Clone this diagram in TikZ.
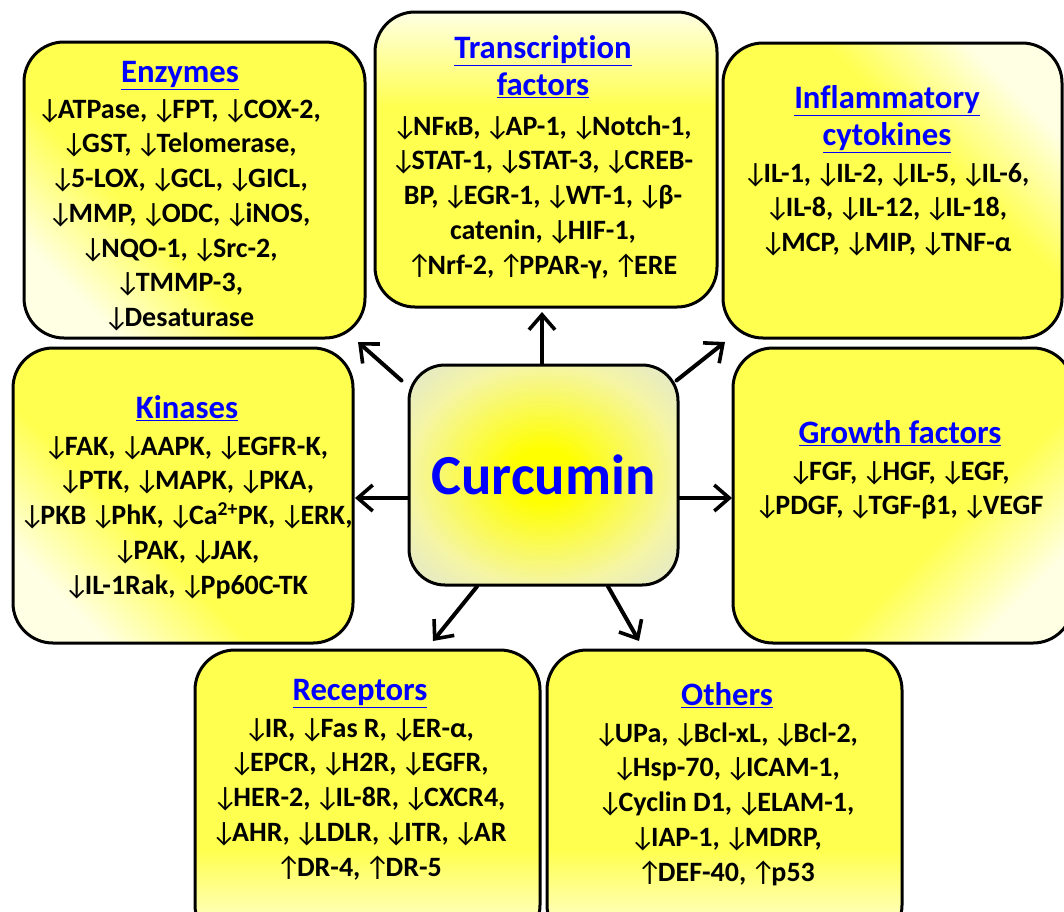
\documentclass[tikz,border=0pt]{standalone}
\usepackage{fontspec}
\setmainfont{Carlito}[Ligatures=NoCommon]
\usetikzlibrary{arrows.meta}
\definecolor{boxyel}{RGB}{255,255,80}
\definecolor{boxlight}{RGB}{255,255,228}
\definecolor{curyel}{RGB}{255,255,0}
\definecolor{curmid}{RGB}{245,245,165}
\definecolor{curedge}{RGB}{222,229,210}
\definecolor{ttlblue}{RGB}{0,0,255}
\pgfdeclareverticalshading{boxgrad}{100bp}{color(0bp)=(boxlight); color(25bp)=(boxlight); color(41bp)=(boxyel); color(100bp)=(boxyel)}
\pgfdeclareradialshading{curgrad}{\pgfpoint{0bp}{0bp}}{color(0bp)=(curyel); color(6bp)=(curyel); color(25bp)=(curmid); color(36bp)=(curedge); color(50bp)=(curedge)}
\newcommand\fstrut{\rule{0pt}{1em}}
\newcommand\dn{{\mdseries\kern-2pt↓\kern-4.5pt}}
\newcommand\upa{{\mdseries\kern-2pt↑\kern-4.5pt}}
\tikzset{
  catbox/.style={draw=black, line width=3pt, rounded corners=40pt, shade, shading=boxgrad, inner sep=0pt},
  curbox/.style={draw=black, line width=3pt, rounded corners=36pt, shade, shading=curgrad, inner sep=0pt,
    text=ttlblue, font=\fontsize{56.6}{68}\selectfont\bfseries},
  ttl/.style={text=ttlblue, font=\fontsize{32.7}{37}\selectfont\bfseries, align=center, inner sep=0pt, anchor=north},
  bodytxt/.style={text=black, font=\fontsize{28}{34.7}\selectfont\bfseries, align=center, inner sep=0pt, anchor=north},
  conn/.style={line width=4pt, line cap=round, -{Straight Barb[length=15pt,width=26pt,line width=3.6pt]}}
}
\begin{document}
\begin{tikzpicture}[x=1pt,y=-1pt]
\useasboundingbox (0,0) rectangle (1064,911);
% boxes
\node[catbox, shading angle=-45, minimum width=341pt, minimum height=296pt] (enz) at (194.5,190) {};
\node[catbox, shading angle=180, minimum width=342pt, minimum height=295pt] (tf) at (546,159.5) {};
\node[catbox, shading angle=135, minimum width=339pt, minimum height=295pt] (inf) at (892.5,190.5) {};
\node[catbox, shading angle=-45, minimum width=340pt, minimum height=295pt] (kin) at (183,495.5) {};
\node[catbox, shading angle=45, minimum width=340pt, minimum height=295pt] (gro) at (903,495.5) {};
\node[catbox, shading angle=0, minimum width=345pt, minimum height=295pt] (rec) at (367.5,797.5) {};
\node[catbox, shading angle=0, minimum width=355pt, minimum height=295pt] (oth) at (724.5,797.5) {};
\node[curbox, minimum width=269pt, minimum height=220pt] (cur) at (543.5,475) {Curcumin};
% titles (y = first baseline - font size)
\node[ttl] (enzT) at (180,49.3) {\fstrut\underline{Enzymes}};
\node[ttl] (tfT) at (543,25.3) {\fstrut\underline{Transcription}\\\underline{factors}};
\node[ttl] (infT) at (887,75.3) {\fstrut\underline{Inflammatory}\\\underline{cytokines}};
\node[ttl] (kinT) at (187,385.3) {\fstrut\underline{Kinases}};
\node[ttl] (groT) at (900,410.3) {\fstrut\underline{Growth factors}};
\node[ttl] (recT) at (360,667.3) {\fstrut\underline{Receptors}};
\node[ttl] (othT) at (727,672.3) {\fstrut\underline{Others}};
% bodies
\node[bodytxt] (enzB) at (180,90) {\fstrut\dn ATPase, \dn FPT, \dn COX-2,\\\dn GST, \dn Telomerase,\\\dn 5-LOX, \dn GCL, \dn GICL,\\\dn MMP, \dn ODC, \dn iNOS,\\\dn NQO-1, \dn Src-2,\\\dn TMMP-3,\\\dn Desaturase};
\node[bodytxt] (tfB) at (543,107) {\fstrut\dn NFκB, \dn AP-1, \dn Notch-1,\\\dn STAT-1, \dn STAT-3, \dn CREB-\\BP, \dn EGR-1, \dn WT-1, \dn β-\\catenin, \dn HIF-1,\\\upa Nrf-2, \upa PPAR-γ, \upa ERE};
\node[bodytxt] (infB) at (887,154) {\fstrut\dn IL-1, \dn IL-2, \dn IL-5, \dn IL-6,\\\dn IL-8, \dn IL-12, \dn IL-18,\\\dn MCP, \dn MIP, \dn TNF-α};
\node[bodytxt] (kinB) at (187,427) {\fstrut\dn FAK, \dn AAPK, \dn EGFR-K,\\\dn PTK, \dn MAPK, \dn PKA,\\\dn PKB \dn PhK, \dn Ca\textsuperscript{2+}PK, \dn ERK,\\\dn PAK, \dn JAK,\\\dn IL-1Rak, \dn Pp60C-TK};
\node[bodytxt] (groB) at (900,452) {\fstrut\dn FGF, \dn HGF, \dn EGF,\\\dn PDGF, \dn TGF-β1, \dn VEGF};
\node[bodytxt] (recB) at (360,709) {\fstrut\dn IR, \dn Fas R, \dn ER-α,\\\dn EPCR, \dn H2R, \dn EGFR,\\\dn HER-2, \dn IL-8R, \dn CXCR4,\\\dn AHR, \dn LDLR, \dn ITR, \dn AR\\\upa DR-4, \upa DR-5};
\node[bodytxt] (othB) at (727,714) {\fstrut\dn UPa, \dn Bcl-xL, \dn Bcl-2,\\\dn Hsp-70, \dn ICAM-1,\\\dn Cyclin D1, \dn ELAM-1,\\\dn IAP-1, \dn MDRP,\\\upa DEF-40, \upa p53};
% arrow tips
\coordinate (tipU) at (542,312);
\coordinate (tipUL) at (358,342);
\coordinate (tipUR) at (725,342);
\coordinate (tipL) at (355,498);
\coordinate (tipR) at (732,498);
\coordinate (tipLL) at (433,641);
\coordinate (tipLR) at (639,641);
% connectors
\draw[conn] ([xshift=-1.5pt]cur.north) -- (tipU);
\draw[conn] ([shift={(-6pt,-17pt)}]cur.north west) -- (tipUL);
\draw[conn] ([shift={(-3pt,-17pt)}]cur.north east) -- (tipUR);
\draw[conn] ([yshift=-23pt]cur.west) -- (tipL);
\draw[conn] ([yshift=-23pt]cur.east) -- (tipR);
\draw[conn] ([xshift=-66.5pt]cur.south) -- (tipLL);
\draw[conn] ([xshift=64.5pt]cur.south) -- (tipLR);
\end{tikzpicture}
\end{document}
